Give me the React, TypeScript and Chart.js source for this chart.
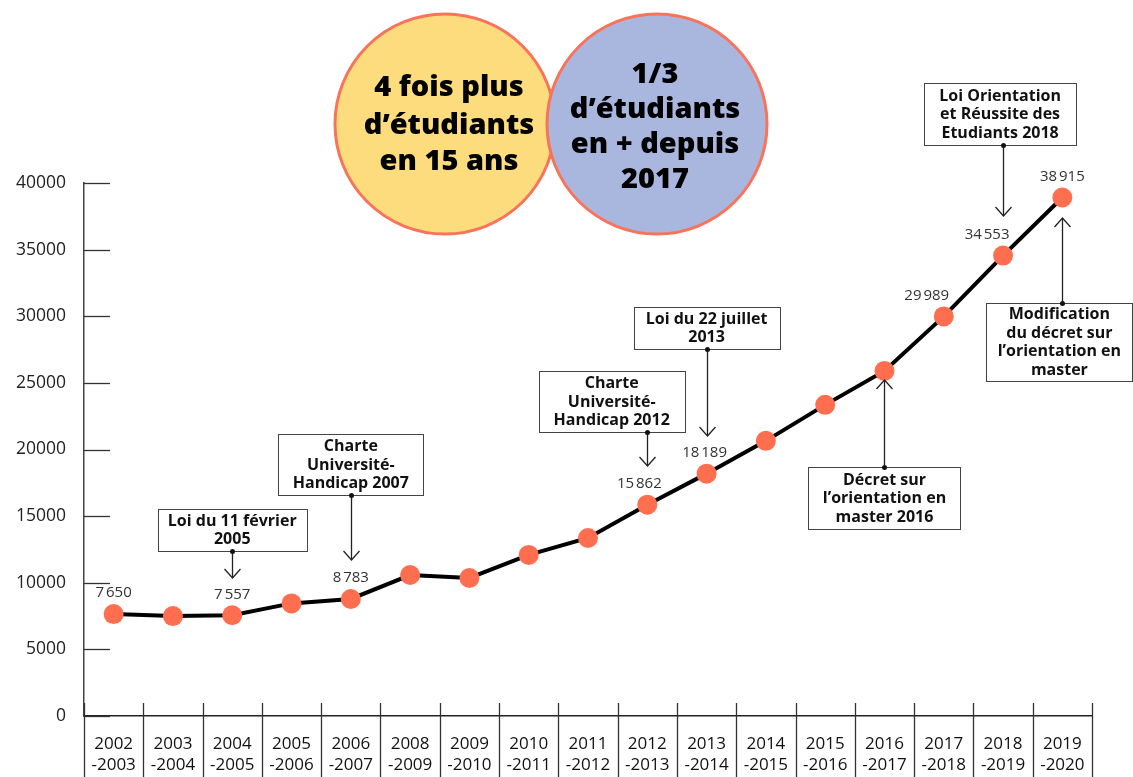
import React, { useEffect, useRef } from "react";
import { Chart, registerables } from "chart.js";

Chart.register(...registerables);

// ---------- data ----------
const startYears = ["2002", "2003", "2004", "2005", "2006", "2008", "2009", "2010", "2011", "2012", "2013", "2014", "2015", "2016", "2017", "2018", "2019"];
const endYears = ["-2003", "-2004", "-2005", "-2006", "-2007", "-2009", "-2010", "-2011", "-2012", "-2013", "-2014", "-2015", "-2016", "-2017", "-2018", "-2019", "-2020"];
const students = [7650, 7500, 7557, 8450, 8783, 10580, 10360, 12090, 13360, 15862, 18189, 20650, 23350, 25900, 29989, 34553, 38915];
const labelledIndexes = [0, 2, 4, 9, 10, 14, 15, 16];
const yTicks = [0, 5000, 10000, 15000, 20000, 25000, 30000, 35000, 40000];

const annotationTexts = [
  ["Loi du 11 février", "2005"],
  ["Charte", "Université-", "Handicap 2007"],
  ["Charte", "Université-", "Handicap 2012"],
  ["Loi du 22 juillet", "2013"],
  ["Loi Orientation", "et Réussite des", "Etudiants 2018"],
  ["Modification", "du décret sur", "l’orientation en", "master"],
  ["Décret sur", "l’orientation en", "master 2016"],
];
const annotationAnchors = [2, 4, 9, 10, 15, 16, 13];

const bubbleTexts = [
  ["4 fois plus", "d’étudiants", "en 15 ans"],
  ["1/3", "d’étudiants", "en + depuis", "2017"],
];

// ---------- layout (not data) ----------
const annotationLayout = [
  { dx: 0, top: 15535, w: 149, h: 42, dir: "down", tip: 10356 },
  { dx: 0, top: 21163, w: 145, h: 61, dir: "down", tip: 11707 },
  { dx: -0.6, top: 25891, w: 146, h: 61, dir: "down", tip: 18762 },
  { dx: 0, top: 30694, w: 146, h: 42, dir: "down", tip: 21013 },
  { dx: -0.05, top: 47505, w: 152, h: 62, dir: "down", tip: 37523 },
  { dx: -0.05, top: 30994, w: 146, h: 78, dir: "up", tip: 37373 },
  { dx: 0, top: 18687, w: 152, h: 62, dir: "up", tip: 25216 },
];
const labelDx = [0, 0, 0, -8, -2, -17, -16, 0];

const bubbleLayout = [
  { cx: 445, cy: 124, r: 110, fill: "#FDDC7E", textX: 449, lines: [88, 126, 162], size: 29 },
  { cx: 657, cy: 124, r: 110, fill: "#A9B7DF", textX: 655, lines: [75, 110, 145, 180], size: 29 },
];

const FONT = "'Open Sans', 'DejaVu Sans', sans-serif";

function fmt(n: number) {
  return String(n).replace(/\B(?=(\d{3})+(?!\d))/g, "\u202F");
}

const overlayPlugin = {
  id: "overlay",
  beforeDatasetsDraw(chart: any) {
    const { ctx, chartArea, scales } = chart;
    const x = scales.x;
    const y = scales.y;
    ctx.save();
    ctx.strokeStyle = "#333";
    ctx.lineWidth = 1.3;
    yTicks.forEach((v) => {
      const py = Math.round(y.getPixelForValue(v)) + 0.5;
      ctx.beginPath();
      ctx.moveTo(chartArea.left, py);
      ctx.lineTo(chartArea.left + 26, py);
      ctx.stroke();
    });
    const step = x.getPixelForValue(1) - x.getPixelForValue(0);
    for (let i = 0; i <= startYears.length; i++) {
      const px = Math.round(x.getPixelForValue(0) - step / 2 + i * step) + 0.5;
      ctx.beginPath();
      ctx.moveTo(px, chartArea.bottom - 13);
      ctx.lineTo(px, chart.height);
      ctx.stroke();
    }
    ctx.restore();
  },
  afterDatasetsDraw(chart: any) {
    const { ctx, scales } = chart;
    const x = scales.x;
    const y = scales.y;
    ctx.save();
    ctx.font = `15px ${FONT}`;
    ctx.fillStyle = "#333";
    ctx.textAlign = "center";
    ctx.textBaseline = "middle";
    labelledIndexes.forEach((idx, k) => {
      const px = x.getPixelForValue(idx) + labelDx[k];
      const py = y.getPixelForValue(students[idx]) - 21;
      ctx.fillText(fmt(students[idx]), px, py);
    });

    const step = x.getPixelForValue(1) - x.getPixelForValue(0);
    annotationTexts.forEach((lines, i) => {
      const L = annotationLayout[i];
      const ax = x.getPixelForValue(annotationAnchors[i]);
      const bx = ax + L.dx * step;
      const top = Math.round(y.getPixelForValue(L.top)) + 0.5;
      const left = Math.round(bx - L.w / 2) + 0.5;
      ctx.fillStyle = "#fff";
      ctx.fillRect(left, top, L.w, L.h);
      ctx.strokeStyle = "#444";
      ctx.lineWidth = 1;
      ctx.strokeRect(left, top, L.w, L.h);
      ctx.fillStyle = "#111";
      ctx.font = `bold 16px ${FONT}`;
      ctx.textAlign = "center";
      ctx.textBaseline = "middle";
      const lh = 18.5;
      const startY = top + L.h / 2 - ((lines.length - 1) * lh) / 2;
      lines.forEach((t, j) => ctx.fillText(t, bx, startY + j * lh));

      const startYc = L.dir === "down" ? top + L.h : top;
      const tipY = y.getPixelForValue(L.tip);
      const lx = Math.round(ax) + 0.5;
      ctx.strokeStyle = "#222";
      ctx.lineWidth = 1.3;
      ctx.beginPath();
      ctx.moveTo(lx, startYc);
      ctx.lineTo(lx, tipY);
      ctx.stroke();
      const s = L.dir === "down" ? -1 : 1;
      ctx.beginPath();
      ctx.moveTo(lx - 8, tipY + s * 9);
      ctx.lineTo(lx, tipY);
      ctx.lineTo(lx + 8, tipY + s * 9);
      ctx.stroke();
      ctx.fillStyle = "#111";
      ctx.beginPath();
      ctx.arc(lx, startYc, 2.5, 0, Math.PI * 2);
      ctx.fill();
    });

    bubbleTexts.forEach((lines, i) => {
      const B = bubbleLayout[i];
      ctx.beginPath();
      ctx.arc(B.cx, B.cy, B.r, 0, Math.PI * 2);
      ctx.fillStyle = B.fill;
      ctx.fill();
      ctx.strokeStyle = "#F9735B";
      ctx.lineWidth = 3;
      ctx.stroke();
      ctx.fillStyle = "#000";
      ctx.font = `800 ${B.size}px ${FONT}`;
      ctx.textAlign = "center";
      ctx.textBaseline = "middle";
      lines.forEach((t, j) => ctx.fillText(t, B.textX, B.lines[j]));
    });
    ctx.restore();
  },
};

export default function App() {
  const ref = useRef<HTMLCanvasElement | null>(null);
  useEffect(() => {
    if (!ref.current) return;
    const chart = new Chart(ref.current, {
      type: "line",
      data: {
        labels: startYears.map((s, i) => [s, endYears[i]]),
        datasets: [
          {
            data: students,
            borderColor: "#000",
            borderWidth: 4,
            pointRadius: 10,
            pointHoverRadius: 10,
            pointBackgroundColor: "#FF6F4F",
            pointBorderWidth: 0,
            tension: 0,
          },
        ],
      },
      options: {
        responsive: false,
        animation: false,
        layout: { padding: { top: 183, right: 41, left: 0, bottom: 0 } },
        plugins: { legend: { display: false }, tooltip: { enabled: false } },
        scales: {
          x: {
            type: "category",
            offset: true,
            grid: { display: false, drawTicks: false },
            border: { display: true, color: "#222", width: 1.5 },
            ticks: {
              autoSkip: false,
              maxRotation: 0,
              padding: 18,
              color: "#111",
              font: { family: FONT, size: 17, lineHeight: 1.22 },
            },
            afterFit: (s: any) => {
              s.height = 61;
            },
          },
          y: {
            min: 0,
            max: 40000,
            grid: { display: false, drawTicks: false },
            border: { display: true, color: "#444", width: 1.5 },
            ticks: {
              stepSize: 5000,
              padding: 18,
              color: "#222",
              font: { family: FONT, size: 17.5 },
              callback: (v: any) => String(v),
            },
            afterFit: (s: any) => {
              s.width = 84;
            },
          },
        },
      },
      plugins: [overlayPlugin],
    });
    return () => chart.destroy();
  }, []);
  return (
    <div style={{ position: "absolute", left: 0, top: 0, width: 1133, height: 777, background: "#fff" }}>
      <canvas ref={ref} width={1133} height={777} style={{ display: "block" }} />
    </div>
  );
}
